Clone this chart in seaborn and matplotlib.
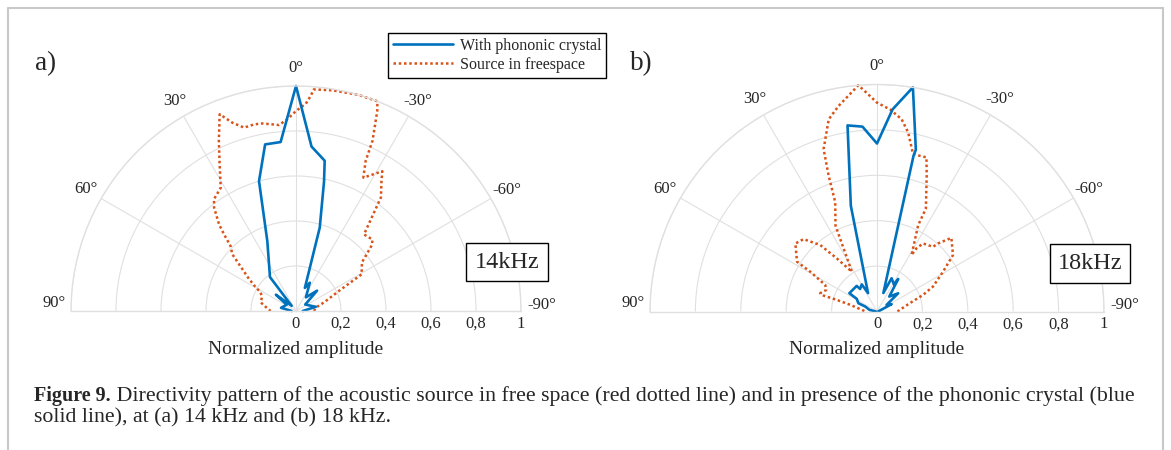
import numpy as np
import matplotlib
matplotlib.use("Agg")
import matplotlib.pyplot as plt
import matplotlib.transforms as mtransforms
from matplotlib.patches import Rectangle
from matplotlib.lines import Line2D
import seaborn as sns

# ---------------- data ----------------
THETA_TICKS = [90, 60, 30, 0, -30, -60, -90]
THETA_LABELS = ["90°", "60°", "30°", "0°", "-30°", "-60°", "-90°"]
R_TICKS = [0, 0.2, 0.4, 0.6, 0.8, 1.0]
R_LABELS = ["0", "0,2", "0,4", "0,6", "0,8", "1"]
SERIES = ["With phononic crystal", "Source in freespace"]
FREQS = ["14kHz", "18kHz"]
PANELS = ["a)", "b)"]
XLABEL = "Normalized amplitude"

# 14 kHz - with phononic crystal (angle in degrees, normalized amplitude)
ANG_PC_14 = [-90, -78, -55, -46, -36, -26, -21, -15.9, -12.2, -10.8, -5.4, 0,
             5.2, 10.5, 15.9, 22.3, 37.5, 40, 51, 56, 78, 82, 90]
AMP_PC_14 = [0.03, 0.09, 0.05, 0.13, 0.075, 0.14, 0.11, 0.385, 0.59, 0.68, 0.734, 1.0,
             0.754, 0.753, 0.60, 0.336, 0.19, 0.03, 0.115, 0.05, 0.068, 0.035, 0.02]

# 14 kHz - source in free space
ANG_FS_14 = [-90, -80, -73, -65, -60.8, -53.6, -48.9, -46.8, -41.6, -36.8, -33.4, -31.7,
             -26.8, -24.9, -24.2, -22.1, -21.2, -16, -9.4, -4.6, -3.9, -2.7, 0, 2.6,
             5.2, 10.2, 12.7, 15.8, 18.7, 21.2, 24.4, 27.5, 31.4, 36.3, 38.4, 41.6,
             43.2, 45.2, 48.3, 55.6, 59.4, 62, 67.7, 76, 80, 87, 90]
AMP_FS_14 = [0.08, 0.09, 0.13, 0.21, 0.334, 0.364, 0.45, 0.465, 0.455, 0.63, 0.69, 0.73,
             0.664, 0.735, 0.83, 0.96, 1.0, 1.0, 0.994, 0.988, 0.958, 0.922, 0.889, 0.853,
             0.83, 0.847, 0.85, 0.847, 0.884, 0.938, 0.83, 0.735, 0.642, 0.616, 0.586, 0.515,
             0.467, 0.41, 0.379, 0.254, 0.209, 0.179, 0.163, 0.162, 0.145, 0.121, 0.113]

# 18 kHz - with phononic crystal
ANG_PC_18 = [-90, -63.4, -55.4, -49.3, -39.4, -33.1, -31.9, -23.7, -19, -13.2, -13.5,
             -9.1, -4.4, 0, 4.5, 9.0, 13.9, 26, 29.3, 36.9, 38.4, 56.5, 58, 66, 67,
             77.7, 90]
AMP_PC_18 = [0.005, 0.072, 0.051, 0.123, 0.085, 0.171, 0.141, 0.16, 0.086, 0.705, 0.733,
             1.0, 0.893, 0.74, 0.817, 0.83, 0.48, 0.09, 0.137, 0.124, 0.144, 0.146, 0.105,
             0.09, 0.057, 0.034, 0.005]

# 18 kHz - source in free space
ANG_FS_18 = [-90, -75.8, -70.2, -66, -58.9, -53.4, -45.3, -41.9, -40.9, -34.1, -32, -31.5,
             -25.5, -25.4, -20.1, -17.8, -12.9, -9.9, -7.3, -3.7, 0, 2.7, 4.7, 10.6,
             14.1, 18.2, 19.6, 20.9, 25.8, 32.3, 37.1, 40.5, 45.4, 50.2, 58.1, 59.2,
             62.9, 67, 72.2, 73.4, 73.9, 76, 87, 90]
AMP_FS_18 = [0.09, 0.149, 0.216, 0.27, 0.34, 0.417, 0.461, 0.403, 0.377, 0.362, 0.328, 0.291,
             0.421, 0.502, 0.637, 0.713, 0.711, 0.8, 0.854, 0.892, 0.92, 0.964, 1.0, 0.921,
             0.873, 0.753, 0.635, 0.516, 0.42, 0.207, 0.293, 0.385, 0.454, 0.468, 0.415, 0.342,
             0.256, 0.243, 0.263, 0.246, 0.184, 0.122, 0.057, 0.05]

CAPTION_BOLD = "Figure 9."
CAPTION_L1 = (" Directivity pattern of the acoustic source in free space (red dotted line) "
              "and in presence of the phononic crystal (blue")
CAPTION_L2 = "solid line), at (a) 14 kHz and (b) 18 kHz."

# ---------------- style ----------------
sns.set_style("white")
plt.rcParams["font.family"] = ["Liberation Serif", "DejaVu Serif"]
plt.rcParams["axes.unicode_minus"] = False

BLUE = "#0072BD"
RED = "#D95319"
GRID = "#e0e0e0"

W, H = 1171, 450
fig = plt.figure(figsize=(W / 100, H / 100), dpi=100)
fig.patch.set_facecolor("white")


def fx(x):
    return x / W


def fy(y):
    return 1 - y / H


panels = [
    dict(cx=296, cy=311, R=225, pc=(ANG_PC_14, AMP_PC_14), fs=(ANG_FS_14, AMP_FS_14),
         box=(466, 243, 548, 281), lab=(46, 62), freq=FREQS[0], name=PANELS[0]),
    dict(cx=877, cy=311.5, R=227, pc=(ANG_PC_18, AMP_PC_18), fs=(ANG_FS_18, AMP_FS_18),
         box=(1050, 244, 1130, 283), lab=(641, 62), freq=FREQS[1], name=PANELS[1]),
]

legend_handles = None
for p in panels:
    cx, cy, R = p["cx"], p["cy"], p["R"]
    # square box of side 2R; the half-disc (2R x R) sits centred vertically in it
    ax = fig.add_axes([fx(cx - R), fy(cy + R / 2), 2 * R / W, 2 * R / H],
                      projection="polar")
    ax.set_facecolor("none")
    ax.set_theta_zero_location("N")
    ax.set_theta_direction(1)

    sns.lineplot(x=np.deg2rad(p["fs"][0]), y=p["fs"][1], ax=ax, sort=False,
                 estimator=None, color=RED, lw=1.8, linestyle=(0, (1, 1.1)),
                 label=SERIES[1])
    sns.lineplot(x=np.deg2rad(p["pc"][0]), y=p["pc"][1], ax=ax, sort=False,
                 estimator=None, color=BLUE, lw=1.9, label=SERIES[0])
    for ln in ax.get_lines():
        ln.set_clip_on(False)
    if ax.get_legend() is not None:
        ax.get_legend().remove()
    ax.set_xlabel("")
    ax.set_ylabel("")

    ax.set_thetamin(-90)
    ax.set_thetamax(90)
    ax.set_rlim(0, 1)
    ax.set_thetagrids(THETA_TICKS, labels=[""] * len(THETA_TICKS))
    ax.set_rgrids([0.2, 0.4, 0.6, 0.8, 1.0], labels=[""] * 5)
    ax.grid(True, color=GRID, lw=0.8)
    ax.tick_params(length=0, pad=0)
    for s in ["polar", "start", "end"]:
        ax.spines[s].set_color(GRID)
        ax.spines[s].set_linewidth(1.0)
    ax.spines["inner"].set_visible(False)

    # theta labels
    for a, lab in zip(THETA_TICKS, THETA_LABELS):
        if a == 90:
            ax.text(np.deg2rad(88), 1.025, lab, ha="right", va="center", fontsize=12,
                    clip_on=False)
        elif a == -90:
            ax.text(np.deg2rad(-88.5), 1.03, lab, ha="left", va="center", fontsize=12,
                    clip_on=False)
        else:
            ax.text(np.deg2rad(a), 1.08, lab, ha="center", va="center", fontsize=12,
                    clip_on=False)

    # radial tick labels along the right baseline
    off = mtransforms.offset_copy(ax.transData, fig=fig, x=0, y=-13, units="dots")
    for v, lab in zip(R_TICKS, R_LABELS):
        ax.text(np.deg2rad(-90), v, lab, transform=off, ha="center", va="center",
                fontsize=12, clip_on=False)

    fig.text(fx(cx), fy(cy + 38), XLABEL, ha="center", va="center", fontsize=14)

    # frequency box
    x0, y0, x1, y1 = p["box"]
    fig.patches.append(Rectangle((fx(x0), fy(y1)), (x1 - x0) / W, (y1 - y0) / H,
                                 transform=fig.transFigure, fc="white", ec="black",
                                 lw=1.0))
    fig.text(fx((x0 + x1) / 2), fy((y0 + y1) / 2), p["freq"], ha="center",
             va="center", fontsize=17.5)

    fig.text(fx(p["lab"][0]), fy(p["lab"][1] + 2), p["name"], ha="center", va="center",
             fontsize=19.5)

    if legend_handles is None:
        legend_handles = ax.get_lines()

# legend
h_pc = [l for l in legend_handles if l.get_label() == SERIES[0]][0]
h_fs = [l for l in legend_handles if l.get_label() == SERIES[1]][0]
leg = fig.legend([h_pc, h_fs], SERIES, loc="upper left",
                 bbox_to_anchor=(fx(388), fy(33)), frameon=True, fancybox=False,
                 edgecolor="black", framealpha=1, fontsize=11.5, handlelength=3.8,
                 handletextpad=0.4, labelspacing=0.2, borderpad=0.3, borderaxespad=0)
leg.get_frame().set_linewidth(1.0)

# caption
renderer = fig.canvas.get_renderer()
tb = fig.text(fx(34), fy(401), CAPTION_BOLD, ha="left", va="baseline", fontsize=14.5,
              fontweight="bold")
bb = tb.get_window_extent(renderer=renderer)
fig.text(bb.x1 / W, fy(401), CAPTION_L1, ha="left", va="baseline", fontsize=15.75)
fig.text(fx(34), fy(422), CAPTION_L2, ha="left", va="baseline", fontsize=15.75)

# page border
bc = "#c8c8c8"
fig.lines.append(Line2D([fx(8), fx(8)], [fy(8), 0], transform=fig.transFigure, color=bc, lw=1.5))
fig.lines.append(Line2D([fx(8), fx(1163)], [fy(8), fy(8)], transform=fig.transFigure, color=bc, lw=1.5))
fig.lines.append(Line2D([fx(1163), fx(1163)], [fy(8), 0], transform=fig.transFigure, color=bc, lw=1.5))

fig.savefig("out.png", dpi=100, facecolor="white")
